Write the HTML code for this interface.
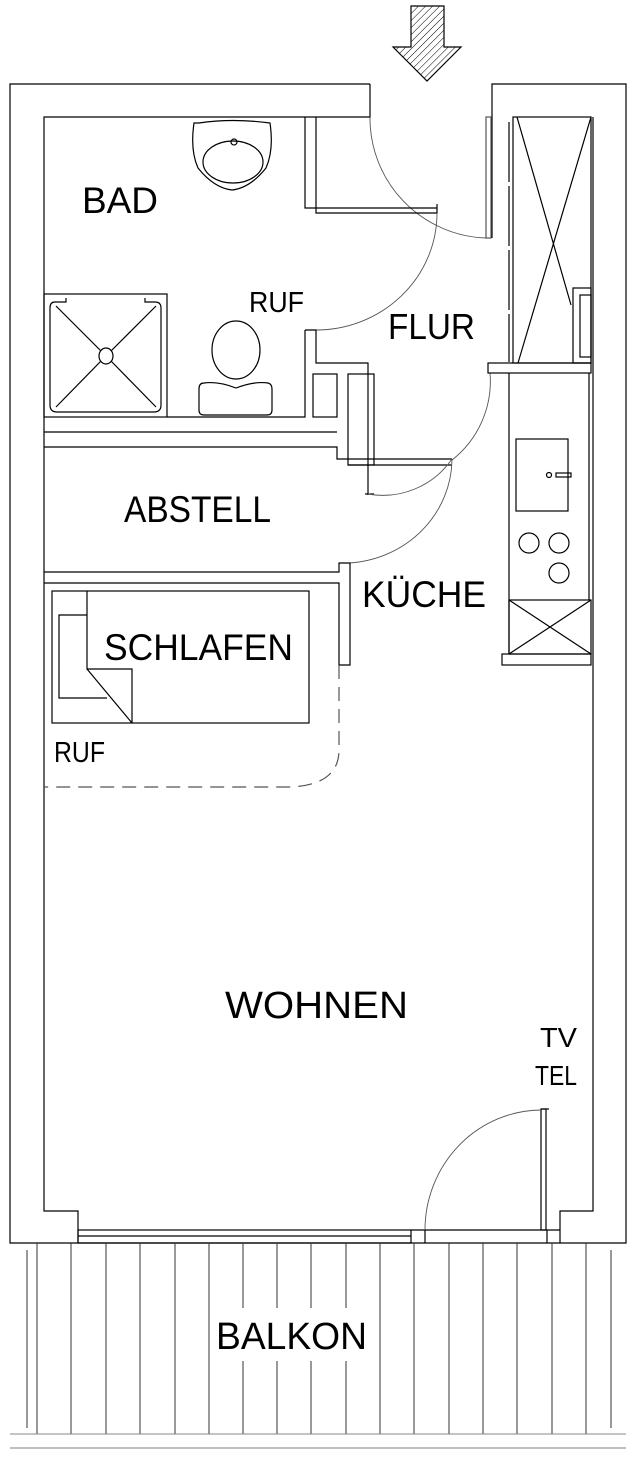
<!DOCTYPE html>
<html><head><meta charset="utf-8"><style>
html,body{margin:0;padding:0;background:#fff}
svg{display:block}
text{font-family:"Liberation Sans",sans-serif;fill:#000}
</style></head><body>
<svg width="636" height="1459" viewBox="0 0 636 1459" xmlns="http://www.w3.org/2000/svg">
<defs>
<pattern id="h" width="5" height="5" patternUnits="userSpaceOnUse" patternTransform="rotate(45)">
<line x1="0" y1="0" x2="0" y2="5" stroke="#000" stroke-width="1"/>
</pattern>
</defs>
<g fill="none" stroke="#000" stroke-width="1.2">
<!-- arrow -->
<path d="M411 6 H444 V47 H461 L427 81 L393 47 H411 Z" fill="url(#h)"/>
<!-- outer walls -->
<path d="M370 84 H10 V1243 H626 V84 H492 V238"/>
<path d="M370 84 V117 H44 V1211 H78 V1243"/>
<path d="M593 117 V1211 H560 V1243"/>
<!-- window -->
<rect x="78" y="1230" width="333" height="13"/>
<line x1="78" y1="1236" x2="411" y2="1236"/>
<path d="M411 1230 H560 M425 1230 V1243 M547 1230 V1243"/>
<!-- entry door -->
<rect x="486" y="117" width="5" height="121" stroke="#555"/>
<path d="M370 117 A120 120 0 0 0 486 238" stroke="#555" stroke-width="0.9"/>
<!-- bath partition top -->
<path d="M305 117 V208 H437 M316 117 V213 H437 V204"/>
<path d="M437 213 A121 117 0 0 1 316 330" stroke="#555" stroke-width="0.9"/>
<path d="M305 330 H316 V363 H368 V495 M305 330 V417 H167"/>
<rect x="313" y="374" width="24" height="43"/>
<rect x="348" y="374" width="26" height="91"/>
<path d="M44 432 H337 M44 447 H337 V459 H452 M348 465 H452"/>
<path d="M365 494 H374"/>
<path d="M452 459 A84 84 0 0 1 368 494" stroke="#555" stroke-width="0.9"/>
<path d="M452 460 A110 105 0 0 1 350 563" stroke="#555" stroke-width="0.9"/>
<path d="M490 373 A100 100 0 0 1 452 460" stroke="#555" stroke-width="0.9"/>
<!-- abstell bottom / schlafen wall -->
<path d="M44 572 H339 V563 H350 V665 H339 V583 H44"/>
<path d="M339 665 V750 Q339 785 290 787 H44" stroke-dasharray="14 8" stroke="#555"/>
<!-- bed -->
<rect x="52" y="591" width="257" height="132"/>
<path d="M87 591 V669 H132 V723 M87 669 L132 723 M87 615 H59 V698 H107"/>
<!-- sink -->
<path d="M199 123 Q232 118 270 123 Q274 150 266 168 Q250 188 232 190 Q214 188 198 168 Q190 150 194 123 Z"/>
<ellipse cx="233" cy="162" rx="30" ry="21"/>
<circle cx="234" cy="142" r="3"/>
<!-- shower -->
<rect x="44" y="294" width="123" height="123"/>
<path d="M66 298 V302 H55 Q50 302 50 308 V405 Q50 412 57 412 H154 Q161 412 161 405 V308 Q161 302 155 302 H145 V298"/>
<path d="M56 306 L101 351 M156 306 L111 351 M56 407 L101 361 M156 407 L111 361"/>
<ellipse cx="106" cy="356" rx="7" ry="8"/>
<!-- toilet -->
<ellipse cx="236" cy="350" rx="24" ry="29"/>
<path d="M204 383 Q218 381 236 388 Q254 381 268 383 Q272 384 272 389 V410 Q272 415 267 415 H204 Q199 415 199 410 V389 Q199 383 204 383 Z"/>
<!-- right cabinet -->
<line x1="509" y1="122" x2="509" y2="362" stroke-dasharray="60 4"/>
<rect x="513" y="117" width="78" height="246"/>
<path d="M517 117 L571 305 M591 117 L518 363"/>
<rect x="573" y="288" width="18" height="75"/>
<rect x="580" y="295" width="11" height="62"/>
<rect x="488" y="363" width="103" height="10"/>
<!-- kitchen -->
<path d="M509 373 V654 M589 373 V600"/>
<rect x="516" y="439" width="52" height="72"/>
<circle cx="549" cy="475" r="2.5"/>
<rect x="556" y="473" width="15" height="4"/>
<circle cx="529" cy="543" r="10"/>
<circle cx="559" cy="543" r="10"/>
<circle cx="559" cy="573" r="10"/>
<rect x="509" y="600" width="82" height="54"/>
<path d="M509 600 L591 654 M591 600 L509 654"/>
<rect x="502" y="654" width="89" height="11"/>
<!-- wohnen door -->
<rect x="541" y="1109" width="5" height="121"/>
<path d="M549 1109 H541"/>
<path d="M541 1110 A117 120 0 0 0 425 1230" stroke="#555" stroke-width="0.9"/>
<!-- balcony -->
<g stroke="#333" stroke-width="1">
<line x1="27" y1="1250" x2="27" y2="1428"/>
<line x1="611" y1="1250" x2="611" y2="1428"/>
<line x1="37" y1="1243" x2="37" y2="1434"/>
<line x1="71" y1="1243" x2="71" y2="1434"/>
<line x1="106" y1="1243" x2="106" y2="1434"/>
<line x1="140" y1="1243" x2="140" y2="1434"/>
<line x1="175" y1="1243" x2="175" y2="1434"/>
<line x1="209" y1="1243" x2="209" y2="1434"/>
<path d="M243 1243 V1308 M243 1361 V1434 M277 1243 V1308 M277 1361 V1434 M311 1243 V1308 M311 1361 V1434 M346 1243 V1308 M346 1361 V1434"/>
<line x1="380" y1="1243" x2="380" y2="1434"/>
<line x1="414" y1="1243" x2="414" y2="1434"/>
<line x1="449" y1="1243" x2="449" y2="1434"/>
<line x1="483" y1="1243" x2="483" y2="1434"/>
<line x1="517" y1="1243" x2="517" y2="1434"/>
<line x1="552" y1="1243" x2="552" y2="1434"/>
<line x1="586" y1="1243" x2="586" y2="1434"/>
<line x1="10" y1="1434" x2="626" y2="1434" stroke="#888"/>
<line x1="10" y1="1448" x2="626" y2="1448" stroke="#aaa" stroke-width="1.5"/>
</g>
</g>
<text x="82" y="213" font-size="37" textLength="76" lengthAdjust="spacingAndGlyphs">BAD</text>
<text x="249" y="312" font-size="29" textLength="55" lengthAdjust="spacingAndGlyphs">RUF</text>
<text x="388" y="339" font-size="36" textLength="87" lengthAdjust="spacingAndGlyphs">FLUR</text>
<text x="124" y="522" font-size="37" textLength="147" lengthAdjust="spacingAndGlyphs">ABSTELL</text>
<text x="362" y="607" font-size="37" textLength="124" lengthAdjust="spacingAndGlyphs">KÜCHE</text>
<text x="104" y="660" font-size="37" textLength="189" lengthAdjust="spacingAndGlyphs">SCHLAFEN</text>
<text x="54" y="762" font-size="29" textLength="51" lengthAdjust="spacingAndGlyphs">RUF</text>
<text x="225" y="1018" font-size="38" textLength="183" lengthAdjust="spacingAndGlyphs">WOHNEN</text>
<text x="540" y="1047" font-size="28" textLength="37" lengthAdjust="spacingAndGlyphs">TV</text>
<text x="535" y="1085" font-size="28" textLength="42" lengthAdjust="spacingAndGlyphs">TEL</text>
<text x="216" y="1349" font-size="38" textLength="151" lengthAdjust="spacingAndGlyphs">BALKON</text>
</svg>
</body></html>
